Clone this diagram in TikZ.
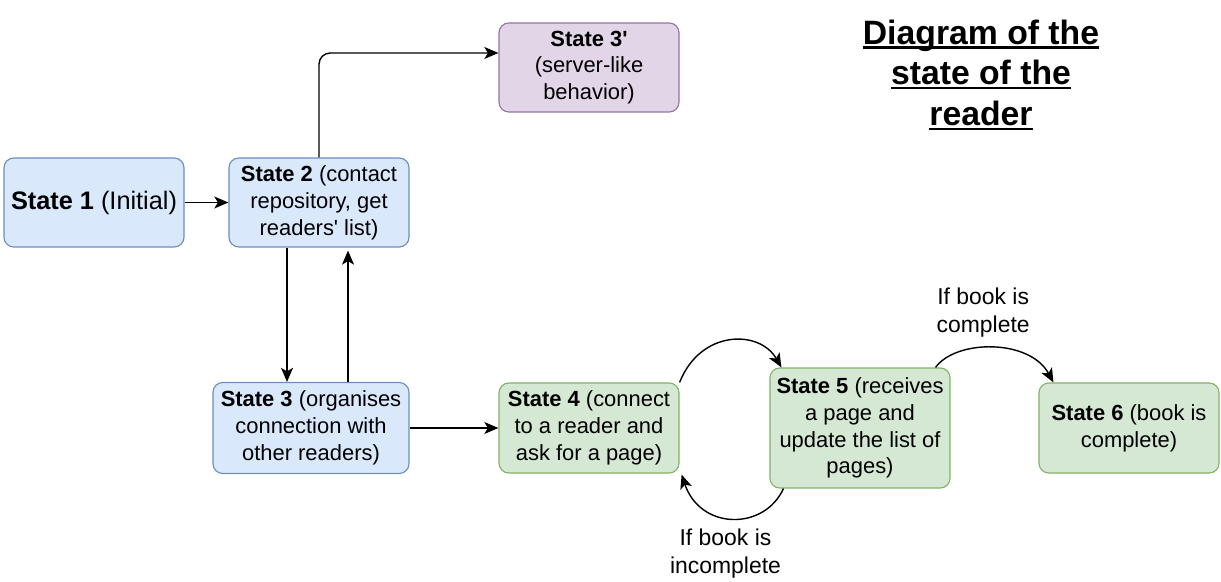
\documentclass[tikz,border=0pt]{standalone}
\usepackage{fontspec}
\setmainfont{Liberation Sans}
\usetikzlibrary{arrows.meta,calc}

\definecolor{blueFill}{HTML}{DAE8FC}
\definecolor{blueLine}{HTML}{6C8EBF}
\definecolor{purpleFill}{HTML}{E1D5E7}
\definecolor{purpleLine}{HTML}{9673A6}
\definecolor{greenFill}{HTML}{D5E8D4}
\definecolor{greenLine}{HTML}{82B366}

% underlined title line
\newcommand{\titleline}[1]{\setbox0\hbox{#1}\rlap{\rule[-3.2pt]{\wd0}{1.6pt}}\box0}

\tikzset{
    statebox/.style={draw, line width=0.8pt, rounded corners=7pt, align=center,
        minimum width=4.5cm, minimum height=2.25cm, inner sep=2pt,
        font=\fontsize{15.6}{19.1}\selectfont},
    bluebox/.style={statebox, fill=blueFill, draw=blueLine},
    purplebox/.style={statebox, fill=purpleFill, draw=purpleLine},
    greenbox/.style={statebox, fill=greenFill, draw=greenLine},
    arr/.style={-{Stealth[length=10pt,width=8.5pt,inset=2.5pt]}, line width=1pt},
    lbl/.style={align=center, font=\fontsize{16.3}{19.8}\selectfont}
}

\begin{document}
\begin{tikzpicture}[x=0.025cm, y=0.025cm]

        \useasboundingbox (0,0) rectangle (1221,-582);

        % Title
        \node[align=center, font=\fontsize{24}{29}\selectfont\bfseries] (title) at (981,-75)
        {\titleline{Diagram of the}\\\titleline{state of the}\\\titleline{reader}};

        % Blue states
        \node[bluebox, font=\fontsize{18}{22}\selectfont, minimum height=2.225cm] (s1) at (94,-202.5) {\textbf{State 1} (Initial)};
        \node[bluebox, minimum height=2.225cm] (s2) at (319,-202.5) {\textbf{State 2} (contact\\repository, get\\readers\textquotesingle{} list)};
        \node[bluebox, minimum width=4.9cm, minimum height=2.275cm] (s3) at (311,-428) {\textbf{State 3} (organises\\connection with\\other readers)};

        % Server-like state
        \node[purplebox, minimum height=2.225cm] (s3b) at (589,-67.5) {\textbf{State 3\textquotesingle}\\(server-like\\behavior)};

        % Green states
        \node[greenbox] (s4) at (589,-428) {\textbf{State 4} (connect\\to a reader and\\ask for a page)};
        \node[greenbox, minimum height=3cm] (s5) at (860,-428) {\textbf{State 5} (receives\\a page and\\update the list of\\pages)};
        \node[greenbox] (s6) at (1129,-428) {\textbf{State 6} (book is\\complete)};

        % State 1 to state 2
        \draw[arr] (s1) -- (s2);

        % State 2 and state 3 back and forth
        \coordinate (down) at ($(s2.south)+(-32,0)$);
        \coordinate (up) at ($(s2.south)+(29,-3)$);
        \draw[arr] (down) -- (down |- s3.north);
        \draw[arr] (up |- s3.north) -- (up);

        % State 2 to state 3'
        \draw[arr, rounded corners=8pt] (s2.north) |- ($(s3b.west)+(0,14.5)$);

        % State 3 to state 4
        \draw[arr] (s3.east) -- (s4.west);

        % Page loop between state 4 and state 5
        \draw[arr] (s4.north east) .. controls +(21,53) and +(-22,38) .. ($(s5.north west)+(12,0)$);
        \draw[arr] ($(s5.south west)+(14,0)$) .. controls +(-19,-42) and +(19,-56) .. ($(s4.south east)+(2,-1)$)
        node[lbl, midway, below=4pt, xshift=-5pt] (incomplete) {If book is\\incomplete};

        % State 5 to state 6
        \draw[arr] ($(s5.north east)+(-15,0)$) .. controls +(20,28) and +(-24,44) .. ($(s6.north west)+(15,0)$)
        node[lbl, midway, above=4pt, xshift=-7pt] (complete) {If book is\\complete};

    \end{tikzpicture}
\end{document}
